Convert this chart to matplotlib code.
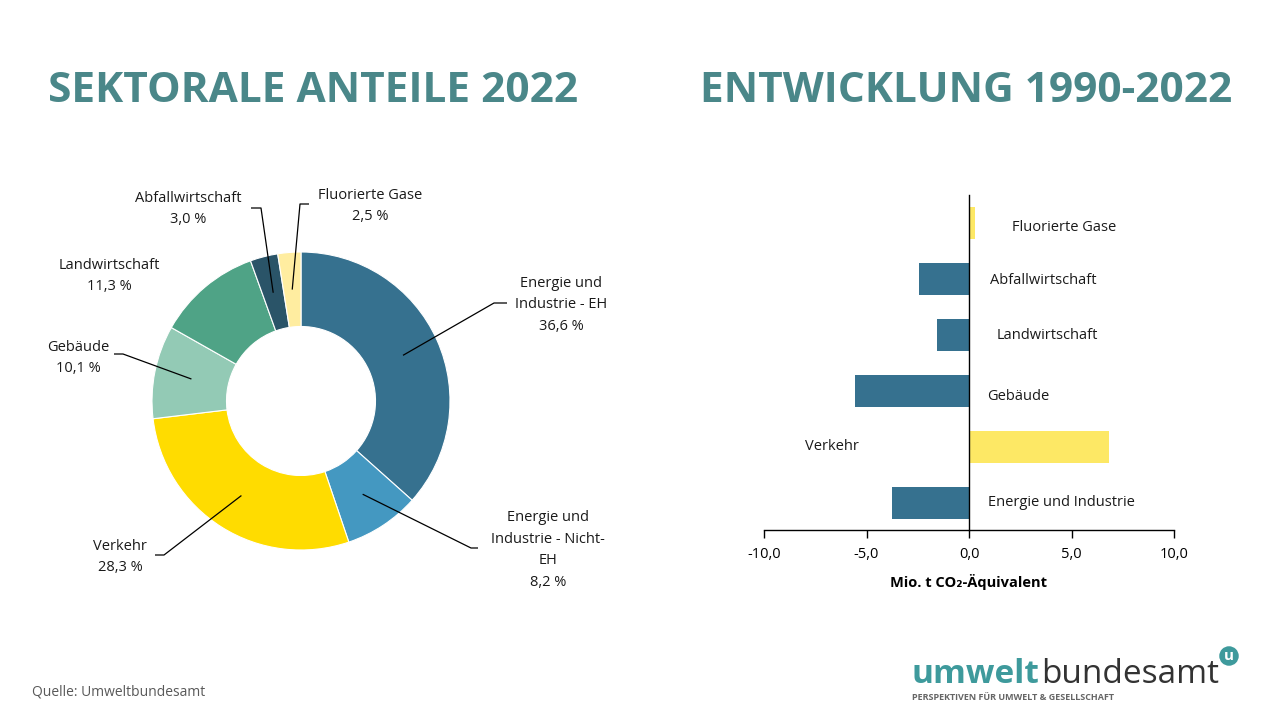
import numpy as np
import matplotlib
matplotlib.use('Agg')
import matplotlib.pyplot as plt

plt.rcParams['font.family'] = ['Open Sans', 'DejaVu Sans']

# --- data ---
pie_labels = ['Energie und\nIndustrie - EH', 'Energie und\nIndustrie - Nicht-\nEH', 'Verkehr',
              'Gebäude', 'Landwirtschaft', 'Abfallwirtschaft', 'Fluorierte Gase']
pie_values = [36.6, 8.2, 28.3, 10.1, 11.3, 3.0, 2.5]
pie_colors = ['#36718F', '#4498C1', '#FFDC00', '#93CAB5', '#4FA386', '#2A5468', '#FFEDA0']

bar_labels = ['Energie und Industrie', 'Verkehr', 'Gebäude', 'Landwirtschaft',
              'Abfallwirtschaft', 'Fluorierte Gase']
bar_values = [-3.77, 6.81, -5.54, -1.58, -2.46, 0.28]
bar_colors = ['#36718F', '#FDE865', '#36718F', '#36718F', '#36718F', '#FDE865']

W, H = 1279, 719
fig = plt.figure(figsize=(W / 100, H / 100), dpi=100)
title_col = '#4A8789'

fig.text(48 / W, 1 - 91 / H, 'SEKTORALE ANTEILE 2022', fontsize=30.5, fontweight='bold',
         color=title_col, ha='left', va='center')
fig.text(700 / W, 1 - 91 / H, 'ENTWICKLUNG 1990-2022', fontsize=30.5, fontweight='bold',
         color=title_col, ha='left', va='center')

# --- donut ---
cx, cy, R = 301, 401, 149
x0, x1, y0, y1 = 0, 640, 150, 620
ax = fig.add_axes([x0 / W, 1 - y1 / H, (x1 - x0) / W, (y1 - y0) / H])


def p(px, py):
    return (px - cx) / R, (cy - py) / R


wedges, _ = ax.pie(pie_values, colors=pie_colors, startangle=90, counterclock=False,
                   radius=1, wedgeprops=dict(width=0.5, edgecolor='white', linewidth=0.8))
ax.set_aspect('auto')
ax.set_xlim((x0 - cx) / R, (x1 - cx) / R)
ax.set_ylim((cy - y1) / R, (cy - y0) / R)
ax.axis('off')

# label positions (pixels): text center, elbow start, elbow end
lab_pos = [
    ((561, 305), (507, 303), (494, 303)),
    ((548, 550), (478, 548), (471, 548)),
    ((120, 557), (155, 555), (164, 555)),
    ((78, 358), (114, 354), (123, 354)),
    ((109, 276), None, None),
    ((188, 209), (251, 208), (261, 208)),
    ((370, 206), (309, 204), (300, 204)),
]
for w, lab, val, (tp, e0, e1) in zip(wedges, pie_labels, pie_values, lab_pos):
    txt = lab + '\n' + f'{val:.1f}'.replace('.', ',') + ' %'
    tx, ty = p(*tp)
    ax.text(tx, ty, txt, ha='center', va='center', fontsize=10.5, linespacing=1.58,
            color='#1a1a1a')
    if e0 is not None:
        ang = np.deg2rad((w.theta1 + w.theta2) / 2)
        ex, ey = 0.75 * np.cos(ang), 0.75 * np.sin(ang)
        a, b = p(*e0)
        c, d = p(*e1)
        ax.plot([a, c, ex], [b, d, ey], color='black', lw=0.9, solid_capstyle='butt')

# --- bars ---
bx = fig.add_axes([764 / W, 1 - 530 / H, 410 / W, 335 / H])
ypos = np.arange(len(bar_values))
bx.barh(ypos, bar_values, height=0.57, color=bar_colors)
bx.set_xlim(-10, 10)
bx.set_ylim(-0.488, 5.505)
bx.set_xticks([-10, -5, 0, 5, 10])
bx.set_xticklabels([f'{v:.1f}'.replace('.', ',') for v in [-10, -5, 0, 5, 10]], fontsize=10.5)
bx.tick_params(axis='x', direction='out', length=6, width=1, pad=6, color='black')
bx.set_yticks([])
for s in ['top', 'right']:
    bx.spines[s].set_visible(False)
bx.spines['left'].set_position(('data', 0))
bx.spines['left'].set_linewidth(1)
bx.spines['bottom'].set_linewidth(1)
bx.patch.set_alpha(0)

# bar labels: (left-edge x in data, y offset)
bar_lab_pos = [(0.95, 0.0), (-8.0, 0.0), (0.86, -0.1), (1.33, 0.0), (1.01, -0.03), (2.11, -0.08)]
for i, (lab, (lx, dy)) in enumerate(zip(bar_labels, bar_lab_pos)):
    bx.text(lx, i + dy, lab, ha='left', va='center', fontsize=10.5, color='#1a1a1a')

bx.set_xlabel('Mio. t CO₂-Äquivalent', fontsize=10.5, fontweight='bold', labelpad=9)

# --- footer ---
fig.text(32 / W, 1 - 692 / H, 'Quelle: Umweltbundesamt', fontsize=10, color='#595959',
         ha='left', va='center')

t1 = fig.text(912 / W, 1 - 683 / H, 'umwelt', fontsize=24, fontweight='bold', color='#3E9A9C',
              ha='left', va='baseline')
fig.canvas.draw()
bb = t1.get_window_extent()
fig.text(bb.x1 / W + 0.001, 1 - 683 / H, 'bundesamt', fontsize=24, color='#333333',
         ha='left', va='baseline')
fig.text(1229 / W, 1 - 656 / H, 'u', fontsize=11, fontweight='bold', color='white',
         ha='center', va='center',
         bbox=dict(boxstyle='circle,pad=0.18', fc='#3E9A9C', ec='none'))
fig.text(912 / W, 1 - 697 / H, 'PERSPEKTIVEN FÜR UMWELT & GESELLSCHAFT', fontsize=6.5,
         fontweight='bold', color='#666666', ha='left', va='center')

fig.savefig('out.png', dpi=100)
